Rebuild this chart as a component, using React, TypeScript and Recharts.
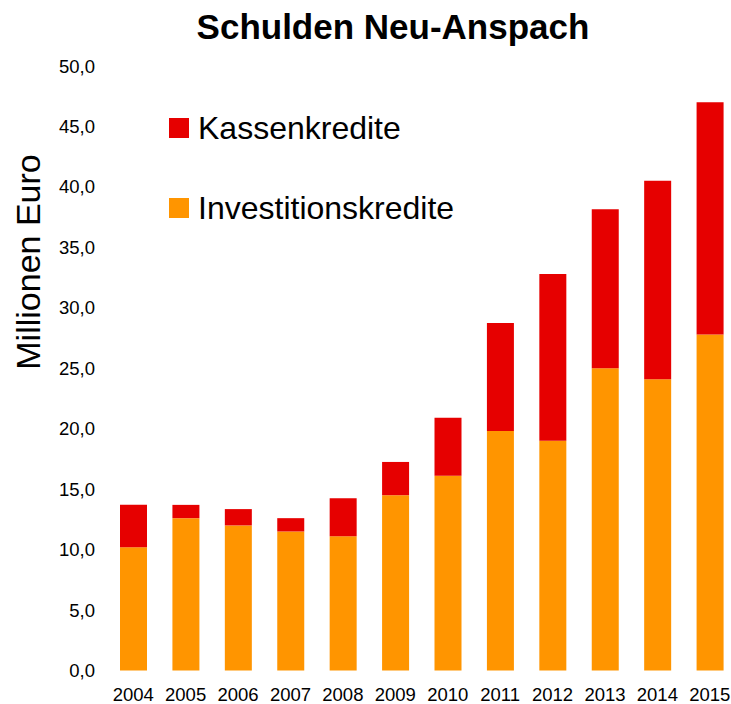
import { BarChart, Bar, XAxis, YAxis, Legend } from "recharts"

const years = ["2004", "2005", "2006", "2007", "2008", "2009", "2010", "2011", "2012", "2013", "2014", "2015"]
const investitionskredite = [10.2, 12.6, 12.0, 11.5, 11.1, 14.5, 16.1, 19.8, 19.0, 25.0, 24.1, 27.8]
const kassenkredite = [3.5, 1.1, 1.35, 1.1, 3.15, 2.75, 4.8, 8.95, 13.8, 13.15, 16.4, 19.2]
const yTicks = [0, 5, 10, 15, 20, 25, 30, 35, 40, 45, 50]

const data = years.map((year, i) => ({
  year,
  invest: investitionskredite[i],
  kasse: kassenkredite[i],
}))

const RED = "#E60000"
const ORANGE = "#FF9500"
const FONT = "'Liberation Sans', Arial, Helvetica, sans-serif"

const legendOrder = ["Kassenkredite", "Investitionskredite"]

function LegendBox(props: any) {
  const items = [...(props.payload || [])].sort(
    (a: any, b: any) => legendOrder.indexOf(a.value) - legendOrder.indexOf(b.value)
  )
  return (
    <div>
      {items.map((item: any) => (
        <div
          key={item.value}
          style={{ display: "flex", alignItems: "center", height: 20, marginBottom: 60 }}
        >
          <span style={{ width: 20, height: 20, background: item.color, display: "inline-block" }} />
          <span style={{ marginLeft: 9, fontSize: 32, lineHeight: "20px", color: "#000", fontFamily: FONT }}>
            {item.value}
          </span>
        </div>
      ))}
    </div>
  )
}

const fmt = (v: number) => v.toFixed(1).replace(".", ",")

export default function App() {
  return (
    <div style={{ position: "relative", width: 731, height: 704, overflow: "hidden", background: "#fff", fontFamily: FONT }}>
      <style>{`body{margin:0}`}</style>
      <div
        style={{
          position: "absolute",
          top: 9,
          left: 193,
          width: 400,
          textAlign: "center",
          fontSize: 35,
          fontWeight: "bold",
          lineHeight: "35px",
          whiteSpace: "nowrap",
          zIndex: 2,
        }}
      >
        Schulden Neu-Anspach
      </div>
      <BarChart width={740} height={704} data={data} margin={{ top: 66, right: 4, bottom: 0, left: 0 }}>
        <XAxis
          dataKey="year"
          axisLine={false}
          tickLine={false}
          tickSize={0}
          tickMargin={17}
          height={33.5}
          interval={0}
          tick={{ fill: "#000", fontSize: 18.5, fontFamily: FONT }}
        />
        <YAxis
          domain={[0, 50]}
          ticks={yTicks}
          axisLine={false}
          tickLine={false}
          tickSize={0}
          tickMargin={12}
          width={107}
          tickFormatter={fmt}
          tick={{ fill: "#000", fontSize: 18.5, fontFamily: FONT }}
          label={{
            content: () => (
              <text
                x={40}
                y={262}
                transform="rotate(-90 40 262)"
                textAnchor="middle"
                fontSize={34}
                fontFamily={FONT}
                fill="#000"
              >
                Millionen Euro
              </text>
            ),
          }}
        />
        <Legend
          layout="vertical"
          verticalAlign="middle"
          align="center"
          content={<LegendBox />}
          wrapperStyle={{ top: 118, left: 169, width: 320 }}
        />
        <Bar dataKey="invest" name="Investitionskredite" stackId="a" fill={ORANGE} barSize={27} isAnimationActive={false} />
        <Bar dataKey="kasse" name="Kassenkredite" stackId="a" fill={RED} barSize={27} isAnimationActive={false} />
      </BarChart>
    </div>
  )
}
